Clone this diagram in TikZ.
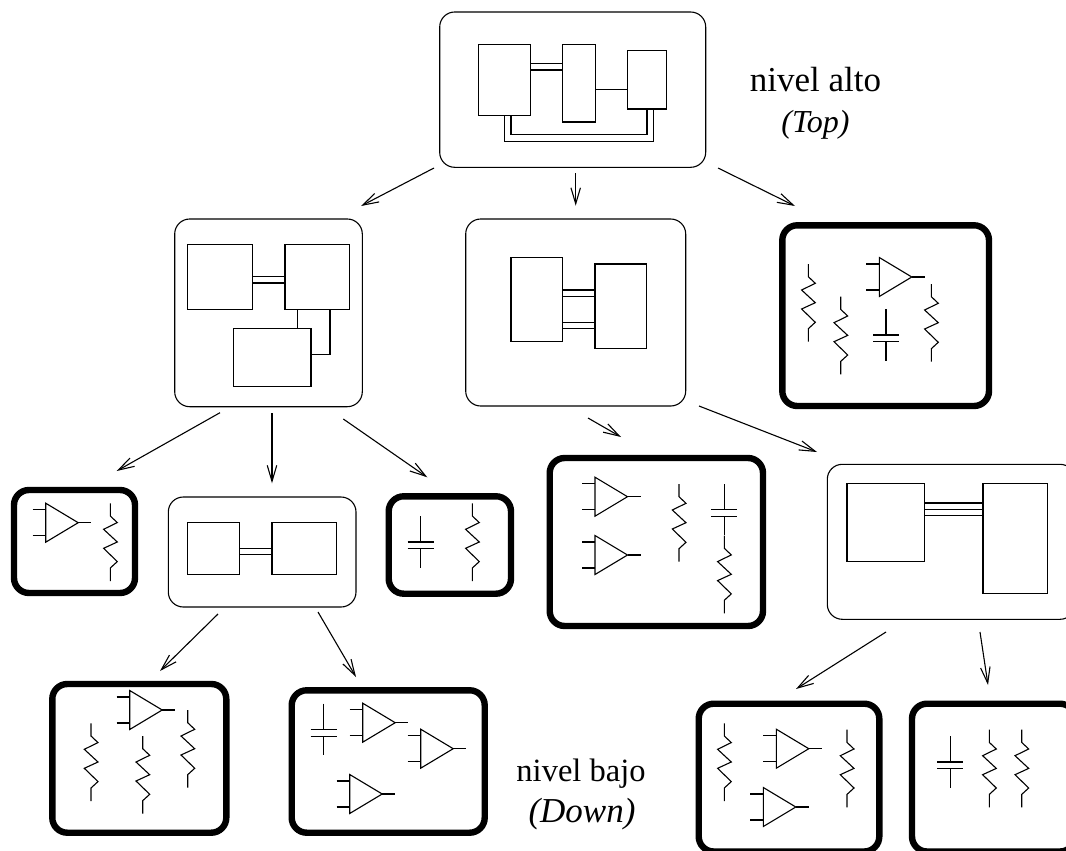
\documentclass[tikz,border=0pt]{standalone}
\usepackage{fontspec}
\setmainfont{Liberation Serif}
\usetikzlibrary{arrows.meta}
\tikzset{
  wire/.style={line width=1.1pt,line join=miter},
  softbox/.style={draw,shape=rectangle,rounded corners=15pt,line width=1.1pt,inner sep=0pt,outer sep=0pt},
  hardbox/.style={draw,shape=rectangle,rounded corners=15pt,line width=6.4pt,inner sep=0pt,outer sep=0pt},
  block/.style={draw,shape=rectangle,line width=1.1pt,inner sep=0pt,outer sep=0pt},
  flow/.style={line width=1.1pt,-{Straight Barb[length=16pt,width=9.5pt,line width=1.1pt]}},
  label/.style={anchor=base,inner sep=0pt},
  opamp/.pic={
    \draw[wire] (0,-19.5) -- (0,19.5) -- (32.5,0) -- cycle;
    \draw[wire] (-13,-13) -- (0,-13) (-13,13) -- (0,13) (32.5,0) -- (45.5,0);
  },
  resistor/.pic={
    \draw[wire] (0,0) -- (0,12.7) -- (7,19.3) -- (-6.7,26) -- (7,38.7) -- (-6.7,45) -- (7,58.3) -- (0,64.7) -- (0,77.7);
  },
  capacitor/.pic={
    \draw[wire] (0,0) -- (0,25.7) (-13,25.7) -- (13,25.7) (-13,32.4) -- (13,32.4) (0,32.4) -- (0,51.4);
  }
}
% \bx{name}{style}{x1}{y1}{x2}{y2}
\newcommand{\bx}[6]{%
  \pgfmathsetmacro{\bxw}{#5-#3}\pgfmathsetmacro{\bxh}{#6-#4}%
  \node[#2,minimum width=\bxw pt,minimum height=\bxh pt] (#1) at ({(#3+#5)/2},{(#4+#6)/2}) {};}
% \arw{name}{x1,y1}{x2,y2}
\newcommand{\arw}[3]{%
  \coordinate (#1s) at (#2); \coordinate (#1e) at (#3);
  \draw[flow] (#1s) -- (#1e);}
\newcommand{\amp}[2]{\pic at (#1,#2) {opamp};}
\newcommand{\res}[2]{\pic at (#1,#2) {resistor};}
\newcommand{\cpt}[2]{\pic at (#1,#2) {capacitor};}
\begin{document}
\begin{tikzpicture}[x=1pt,y=-1pt]
\useasboundingbox (0,0) rectangle (1066,851);
\clip (0,0) rectangle (1066,851);
\fill[white] (0,0) rectangle (1066,851);

% top box
\bx{top}{softbox}{439.7}{12}{705.7}{167.3}
\bx{ta}{block}{478.7}{44.3}{530.7}{115.7}
\bx{tb}{block}{562.7}{44.3}{595.3}{122}
\bx{tc}{block}{627.3}{50.7}{666.3}{109}
\draw[wire] (ta.east |- 0,63.3) -- (tb.west |- 0,63.3);
\draw[wire] (ta.east |- 0,70) -- (tb.west |- 0,70);
\draw[wire] (tb.east |- 0,89.3) -- (tc.west |- 0,89.3);
\draw[wire] (504.7,0 |- ta.south) -- (504.7,141.3) -- (653.3,141.3) -- (653.3,0 |- tc.south);
\draw[wire] (511,0 |- ta.south) -- (511,134.7) -- (647,134.7) -- (647,0 |- tc.south);

% second row, left
\bx{l}{softbox}{174.7}{219}{362.3}{406.7}
\bx{la}{block}{187.7}{244.3}{252.7}{309.3}
\bx{lb}{block}{285}{244.3}{349.7}{309.3}
\bx{lc}{block}{233.3}{328.3}{311}{386.7}
\draw[wire] (la.east |- 0,276.7) -- (lb.west |- 0,276.7);
\draw[wire] (la.east |- 0,283) -- (lb.west |- 0,283);
\draw[wire] (297.7,0 |- lb.south) -- (297.7,0 |- lc.north);
\draw[wire] (330,0 |- lb.south) -- (330,354.3) -- (lc.east |- 0,354.3);

% second row, middle
\bx{m}{softbox}{465.7}{219}{685.7}{406}
\bx{ma}{block}{511}{257.3}{562.7}{341.7}
\bx{mb}{block}{595}{264}{646.7}{348.3}
\draw[wire] (ma.east |- 0,290) -- (mb.west |- 0,290);
\draw[wire] (ma.east |- 0,296.3) -- (mb.west |- 0,296.3);
\draw[wire] (ma.east |- 0,322.7) -- (mb.west |- 0,322.7);
\draw[wire] (ma.east |- 0,328.7) -- (mb.west |- 0,328.7);

% second row, right (leaf)
\bx{r}{hardbox}{782.3}{225.3}{989}{406}
\res{808.3}{264}
\res{840.7}{296.7}
\res{931.3}{284}
\amp{879.3}{277}
\cpt{886}{309.3}

% third row
\bx{s}{hardbox}{14}{490}{135}{593}
\amp{45.7}{522.7}
\res{110.3}{503.3}

\bx{c}{softbox}{168.3}{497}{356}{607}
\bx{ca}{block}{187.7}{522.7}{239.7}{574.3}
\bx{cb}{block}{272}{522.7}{336.7}{574.3}
\draw[wire] (ca.east |- 0,548.3) -- (cb.west |- 0,548.3);
\draw[wire] (ca.east |- 0,554.7) -- (cb.west |- 0,554.7);

\bx{d}{hardbox}{388.7}{496.3}{511}{593.7}
\cpt{420.7}{516.3}
\res{472.3}{503.3}

\bx{e}{hardbox}{549.7}{458}{763}{626}
\amp{595}{496.7}
\amp{595}{555}
\res{679}{484}
\cpt{724.3}{484}
\res{724.3}{535.6}

\bx{f}{softbox}{827.3}{464.3}{1075}{619.3}
\bx{fa}{block}{847}{483.7}{924.7}{561.3}
\bx{fb}{block}{983}{483.7}{1047.7}{593.7}
\draw[wire] (fa.east |- 0,503) -- (fb.west |- 0,503);
\draw[wire] (fa.east |- 0,509.3) -- (fb.west |- 0,509.3);
\draw[wire] (fa.east |- 0,515.7) -- (fb.west |- 0,515.7);

% bottom row
\bx{g}{hardbox}{52.3}{684}{226.3}{832.7}
\amp{129.7}{710}
\res{91}{723.3}
\res{142.7}{736}
\res{187.7}{710}

\bx{h}{hardbox}{291.7}{690.3}{484.7}{832.7}
\cpt{323.7}{703.7}
\amp{362.7}{722.7}
\amp{420.7}{748.7}
\amp{349.7}{794}

\bx{i}{hardbox}{698.7}{703.7}{879.3}{851.5}
\res{724.3}{723.3}
\res{847}{729.7}
\amp{776.3}{748.7}
\amp{763.3}{807}

\bx{j}{hardbox}{912}{703.7}{1075}{851.5}
\cpt{950.3}{736.3}
\res{989.3}{729.7}
\res{1021.7}{729.7}

% arrows
\arw{a1}{434,168}{361,206}
\arw{a2}{575.7,173.3}{575.7,205.7}
\arw{a3}{718,168}{795,206}
\arw{a4}{220,412.7}{116.7,471}
\arw{a5}{272,413}{272,483.3}
\arw{a6}{343.3,419}{427.3,477.3}
\arw{a7}{588,418}{621,437}
\arw{a8}{699,406}{817,452}
\arw{a9}{218,614}{160,671}
\arw{a10}{318,612}{356,677}
\arw{a11}{886,632}{796,689}
\arw{a12}{980,632}{988,685}

% labels
\node[label,font=\fontsize{35}{38}\selectfont] (t1) at (815.5,92) {nivel alto};
\node[label,font=\fontsize{32}{36}\selectfont] (t2) at (815.5,132) {\itshape (Top)};
\node[label,font=\fontsize{32.5}{36}\selectfont] (t3) at (581,781) {nivel bajo};
\node[label,font=\fontsize{35}{38}\selectfont] (t4) at (582,822) {\itshape (Down)};
\end{tikzpicture}
\end{document}
